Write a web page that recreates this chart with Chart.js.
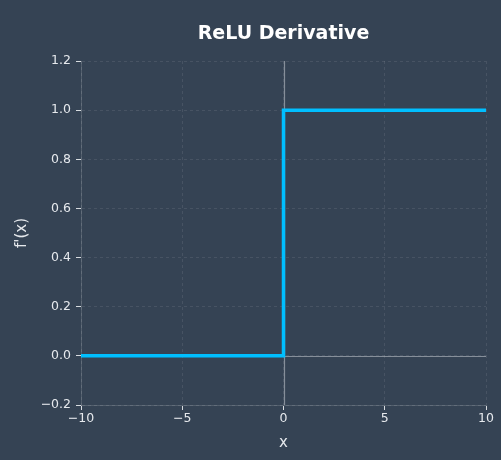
<!DOCTYPE html>
<html>
<head>
<meta charset="utf-8">
<script src="https://cdn.jsdelivr.net/npm/chart.js@4"></script>
<style>
  html, body { margin: 0; padding: 0; background: #354354; }
  #wrap { width: 501px; height: 460px; }
</style>
</head>
<body>
<div id="wrap"><canvas id="graficoRelu"></canvas></div>
<script>
  // dados da derivada da ReLU (degrau em x = 0)
  const xValues = [-10, 0, 0, 10];
  const yValues = [0, 0, 1, 1];
  const xTicks = [-10, -5, 0, 5, 10];
  const yTicks = [-0.2, 0, 0.2, 0.4, 0.6, 0.8, 1.0, 1.2];
  const chartTitle = 'ReLU Derivative';

  const minus = s => String(s).replace('-', '\u2212');

  // linhas do zero e título centrado na área do gráfico
  const extras = {
    id: 'extras',
    beforeDatasetsDraw(chart) {
      const { ctx, chartArea: a, scales: { x, y } } = chart;
      ctx.save();
      ctx.strokeStyle = 'rgba(200,205,212,0.55)';
      ctx.lineWidth = 1.2;
      ctx.beginPath();
      const y0 = Math.round(y.getPixelForValue(0)) + 0.5;
      const x0 = Math.round(x.getPixelForValue(0)) + 0.5;
      ctx.moveTo(a.left, y0); ctx.lineTo(a.right, y0);
      ctx.moveTo(x0, a.top); ctx.lineTo(x0, a.bottom);
      ctx.stroke();
      ctx.restore();
    },
    afterDraw(chart) {
      const { ctx, chartArea: a } = chart;
      ctx.save();
      ctx.fillStyle = '#ffffff';
      ctx.font = 'bold 19px "DejaVu Sans"';
      ctx.textAlign = 'center';
      ctx.textBaseline = 'middle';
      ctx.fillText(chartTitle, (a.left + a.right) / 2, 34);
      ctx.restore();
    }
  };

  const ctx = document.getElementById('graficoRelu').getContext('2d');

  const grafico = new Chart(ctx, {
    type: 'scatter',
    data: {
      datasets: [{
        label: "f'(x)",
        data: xValues.map((v, i) => ({ x: v, y: yValues[i] })),
        showLine: true,
        borderColor: '#00bfff',
        borderWidth: 3.5,
        pointRadius: 0,
        tension: 0
      }]
    },
    options: {
      responsive: true,
      maintainAspectRatio: false,
      animation: false,
      layout: { padding: { top: 61, right: 15, left: 0, bottom: 0 } },
      plugins: {
        legend: { display: false },
        tooltip: { enabled: false }
      },
      scales: {
        x: {
          type: 'linear',
          min: -10,
          max: 10,
          afterFit: s => { s.height = 55; },
          afterBuildTicks: s => { s.ticks = xTicks.map(v => ({ value: v })); },
          ticks: {
            color: '#e6e9ed',
            font: { family: 'DejaVu Sans', size: 12.5 },
            padding: 1,
            maxRotation: 0,
            callback: v => minus(v)
          },
          grid: {
            color: 'rgba(255,255,255,0.09)',
            tickColor: '#d8dce0',
            tickLength: 5,
            tickBorderDash: [],
            drawOnChartArea: true
          },
          border: { display: true, color: 'rgba(255,255,255,0.15)', dash: [3, 3] },
          title: {
            display: true,
            text: 'x',
            color: '#e6e9ed',
            font: { family: 'DejaVu Sans', size: 15 },
            padding: { top: 0, bottom: 8 }
          }
        },
        y: {
          min: -0.2,
          max: 1.2,
          afterFit: s => { s.width = 81; },
          afterBuildTicks: s => { s.ticks = yTicks.map(v => ({ value: v })); },
          ticks: {
            color: '#e6e9ed',
            font: { family: 'DejaVu Sans', size: 12.5 },
            padding: 5,
            callback: v => minus(Number(v).toFixed(1))
          },
          grid: {
            color: 'rgba(255,255,255,0.09)',
            tickColor: '#d8dce0',
            tickLength: 5,
            tickBorderDash: []
          },
          border: { display: true, color: 'rgba(255,255,255,0.15)', dash: [3, 3] },
          title: {
            display: true,
            text: "f'(x)",
            color: '#e6e9ed',
            font: { family: 'DejaVu Sans', size: 15 },
            padding: { top: 13, bottom: 0 }
          }
        }
      }
    },
    plugins: [extras]
  });
</script>
</body>
</html>
